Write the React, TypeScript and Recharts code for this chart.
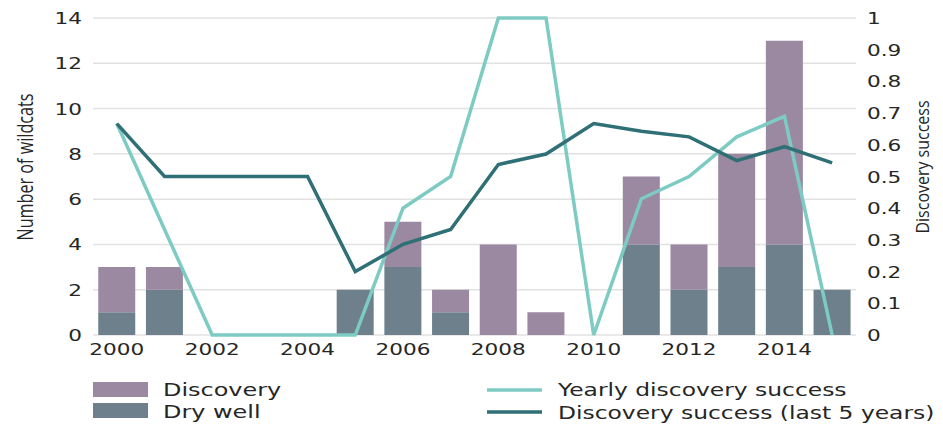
import React from 'react';
import { ComposedChart, Bar, Line, XAxis, YAxis, CartesianGrid, Legend } from 'recharts';

const years = ['2000', '2001', '2002', '2003', '2004', '2005', '2006', '2007', '2008', '2009', '2010', '2011', '2012', '2013', '2014', '2015'];
const dryWell = [1, 2, 0, 0, 0, 2, 3, 1, 0, 0, 0, 4, 2, 3, 4, 2];
const discovery = [2, 1, 0, 0, 0, 0, 2, 1, 4, 1, 0, 3, 2, 5, 9, 0];
const yearlySuccess = [0.667, 0.333, 0, 0, 0, 0, 0.4, 0.5, 1, 1, 0, 0.43, 0.5, 0.625, 0.69, 0];
const fiveYearSuccess = [0.667, 0.5, 0.5, 0.5, 0.5, 0.2, 0.286, 0.333, 0.538, 0.571, 0.667, 0.643, 0.625, 0.55, 0.594, 0.543];
const leftTicks = [0, 2, 4, 6, 8, 10, 12, 14];
const rightTicks = [0, 0.1, 0.2, 0.3, 0.4, 0.5, 0.6, 0.7, 0.8, 0.9, 1];

const C_DISC = '#9b88a1';
const C_DRY = '#6d808c';
const C_YEARLY = '#7dcbc3';
const C_FIVE = '#2f6f76';
const TXT = '#262626';
const FONT = '"DejaVu Sans", sans-serif';

const data = years.map((y, i) => ({
  year: y,
  dry: dryWell[i],
  disc: discovery[i],
  yearly: yearlySuccess[i],
  five: fiveYearSuccess[i],
}));

const XTick = (props: any) => {
  const { x, y, payload } = props;
  return (
    <g transform={`translate(${x},${y + 20})`}>
      <text transform="scale(1.35,1)" textAnchor="middle" fontFamily={FONT} fontSize={16} fill={TXT}>
        {payload.value}
      </text>
    </g>
  );
};

const LeftTick = (props: any) => {
  const { x, y, payload } = props;
  return (
    <g transform={`translate(${x - 11},${y + 6})`}>
      <text transform="scale(1.35,1)" textAnchor="end" fontFamily={FONT} fontSize={16} fill={TXT}>
        {payload.value}
      </text>
    </g>
  );
};

const RightTick = (props: any) => {
  const { x, y, payload } = props;
  return (
    <g transform={`translate(${x + 11},${y + 6})`}>
      <text transform="scale(1.35,1)" textAnchor="start" fontFamily={FONT} fontSize={16} fill={TXT}>
        {String(payload.value)}
      </text>
    </g>
  );
};

const LeftLabel = () => (
  <text
    transform="translate(33,167) rotate(-90)"
    textAnchor="middle"
    fontFamily='"Open Sans", sans-serif'
    fontSize={21}
    fill={TXT}
    textLength={147}
    lengthAdjust="spacingAndGlyphs"
  >
    Number of wildcats
  </text>
);

const RightLabel = () => (
  <text
    transform="translate(929,167) rotate(-90)"
    textAnchor="middle"
    fontFamily='"Open Sans", sans-serif'
    fontSize={19}
    fill={TXT}
    textLength={133}
    lengthAdjust="spacingAndGlyphs"
  >
    Discovery success
  </text>
);

const legendBars = [
  { name: 'Discovery', color: C_DISC },
  { name: 'Dry well', color: C_DRY },
];
const legendLines = [
  { name: 'Yearly discovery success', color: C_YEARLY },
  { name: 'Discovery success (last 5 years)', color: C_FIVE },
];

const LegendContent = () => (
  <svg width={943} height={60} style={{ display: 'block' }}>
    {legendBars.map((b, i) => (
      <g key={b.name}>
        <rect x={93} y={12 + i * 21} width={55} height={15} fill={b.color} />
        <g transform={`translate(163,${26 + i * 22})`}>
          <text transform="scale(1.33,1)" fontFamily={FONT} fontSize={18} fill={TXT}>{b.name}</text>
        </g>
      </g>
    ))}
    {legendLines.map((l, i) => (
      <g key={l.name}>
        <line x1={487} x2={542} y1={20 + i * 22} y2={20 + i * 22} stroke={l.color} strokeWidth={3.5} />
        <g transform={`translate(558,${26 + i * 23})`}>
          <text transform="scale(1.3,1)" fontFamily={FONT} fontSize={18} fill={TXT}>{l.name}</text>
        </g>
      </g>
    ))}
  </svg>
);

export default function App() {
  return (
    <div style={{ position: 'absolute', left: 0, top: 0, width: 943, height: 427, background: '#fff' }}>
      <ComposedChart
        width={943}
        height={427}
        data={data}
        margin={{ top: 18, right: 0, left: 0, bottom: 0 }}
        barCategoryGap="11%"
      >
        <CartesianGrid yAxisId="left" vertical={false} stroke="#e2e2e2" strokeWidth={1.5} />
        <XAxis
          dataKey="year"
          interval={1}
          height={92}
          axisLine={false}
          tickLine={false}
          tickSize={0}
          tickMargin={0}
          tick={<XTick />}
        />
        <YAxis
          yAxisId="left"
          width={93}
          domain={[0, 14]}
          ticks={leftTicks}
          axisLine={false}
          tickLine={false}
          tickSize={0}
          tickMargin={0}
          tick={<LeftTick />}
          label={{ content: <LeftLabel /> }}
        />
        <YAxis
          yAxisId="right"
          orientation="right"
          width={87}
          domain={[0, 1]}
          ticks={rightTicks}
          axisLine={false}
          tickLine={false}
          tickSize={0}
          tickMargin={0}
          tick={<RightTick />}
          label={{ content: <RightLabel /> }}
        />
        <Bar yAxisId="left" dataKey="dry" name="Dry well" stackId="a" fill={C_DRY} isAnimationActive={false} />
        <Bar yAxisId="left" dataKey="disc" name="Discovery" stackId="a" fill={C_DISC} isAnimationActive={false} />
        <Line yAxisId="right" dataKey="yearly" name="Yearly discovery success" type="linear" stroke={C_YEARLY} strokeWidth={3.5} dot={false} isAnimationActive={false} />
        <Line yAxisId="right" dataKey="five" name="Discovery success (last 5 years)" type="linear" stroke={C_FIVE} strokeWidth={3.5} dot={false} isAnimationActive={false} />
        <Legend
          layout="horizontal"
          verticalAlign="middle"
          align="center"
          wrapperStyle={{ position: 'absolute', left: 0, top: 370, width: 943, height: 60 }}
          content={<LegendContent />}
        />
      </ComposedChart>
    </div>
  );
}
